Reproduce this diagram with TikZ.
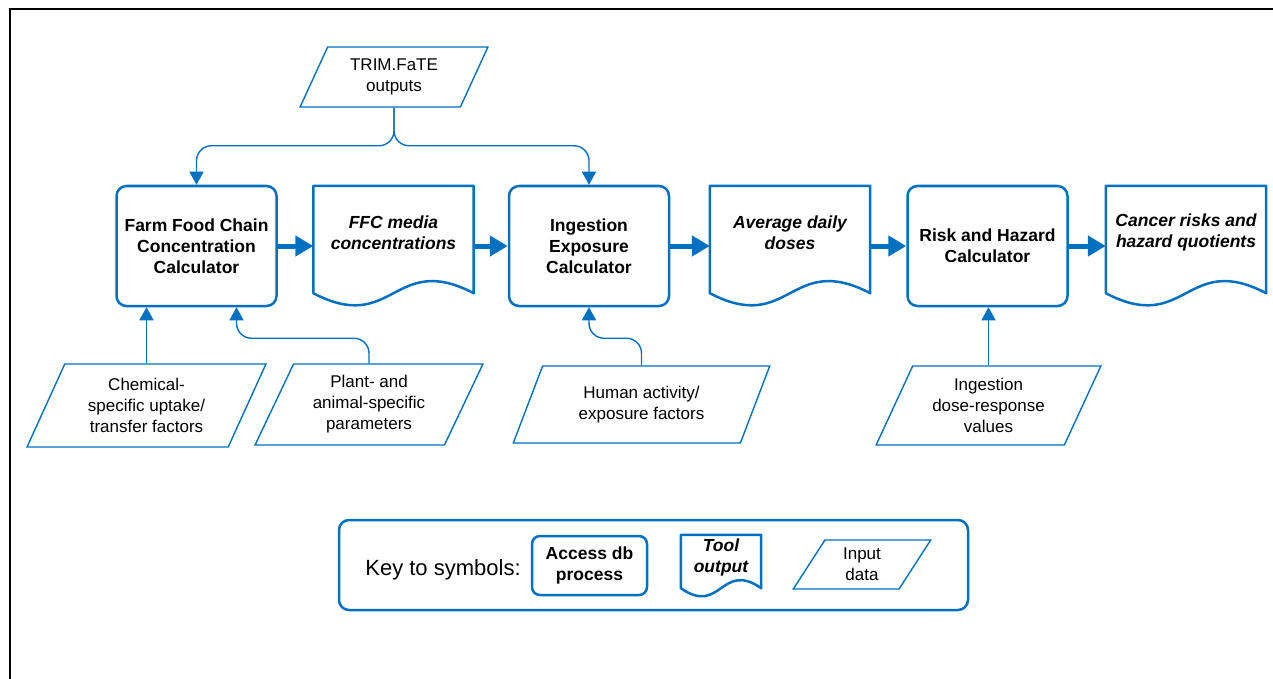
\documentclass[tikz,border=0pt]{standalone}
\usepackage{fontspec}
\setmainfont{Liberation Sans}
\usetikzlibrary{arrows.meta, calc, shapes.geometric}
\definecolor{flowblue}{RGB}{0,112,192}

\begin{document}
\begin{tikzpicture}[x=1pt, y=-1pt,
    every node/.style={font=\fontsize{17}{21}\selectfont, align=center, text=black},
    calcbox/.style={draw=flowblue, line width=2.5pt, rounded corners=10pt,
      minimum width=160pt, minimum height=120pt, inner sep=2pt,
      font=\fontsize{17.5}{21}\selectfont\bfseries},
    outdoc/.style={minimum width=160pt, minimum height=93pt, inner sep=2pt,
      font=\fontsize{17.5}{21}\selectfont\bfseries\itshape},
    docline/.style={draw=flowblue, line width=2.5pt, line join=round},
    indata/.style={trapezium, trapezium left angle=64, trapezium right angle=116,
      trapezium stretches=true, draw=flowblue, line width=1.4pt, inner sep=1pt},
    flow/.style={-{Triangle[length=18pt,width=20pt]}, draw=flowblue, line width=5pt},
    feed/.style={-{Triangle[length=13pt,width=14pt]}, draw=flowblue, line width=1.4pt,
      rounded corners=15pt},
    pageframe/.style={line width=2pt}
  ]
  \useasboundingbox (0,0) rectangle (1273,679);
  \draw[pageframe] (10,679) |- (1273,9);

  % tools and their outputs
  \node[calcbox] (ffc) at (196.5,246) {Farm Food Chain\\Concentration\\Calculator};
  \node[outdoc] (ffcout) at (393.5,232.5) {FFC media\\concentrations};
  \node[calcbox] (ing) at (589,246) {Ingestion\\Exposure\\Calculator};
  \node[outdoc] (adose) at (790,232.5) {Average daily\\doses};
  \node[calcbox] (risk) at (987.5,246) {Risk and Hazard\\Calculator};
  \node[outdoc] (cancer) at (1186,232.5) {Cancer risks and\\hazard quotients};

  % input data
  \node[indata, minimum width=188pt, minimum height=60pt] (trim) at (394,77) {TRIM.FaTE\\outputs};
  \node[indata, minimum width=239pt, minimum height=83pt] (chem) at (146.5,405.5) {Chemical-\\specific uptake/\\transfer factors};
  \node[indata, minimum width=228pt, minimum height=81pt] (plant) at (369,404.5) {Plant- and\\animal-specific\\parameters};
  \node[indata, minimum width=257pt, minimum height=77pt] (human) at (641.5,404.5) {Human activity/\\exposure factors};
  \node[indata, minimum width=225pt, minimum height=79pt] (dose) at (988.5,405.5) {Ingestion\\dose-response\\values};

  % key
  \node[draw=flowblue, line width=2.5pt, rounded corners=10pt,
    minimum width=629pt, minimum height=90pt] (keybox) at (653.5,565) {};
  \node[font=\fontsize{22}{26}\selectfont] (keylabel) at (443,570) {Key to symbols:};
  \node[calcbox, minimum width=115pt, minimum height=59pt, rounded corners=8pt] (keyproc) at (589.5,565.5) {Access db\\process};
  \node[outdoc, minimum width=80pt, minimum height=45pt] (keydoc) at (721,557.5) {Tool\\output};
  \node[indata, minimum width=138pt, minimum height=49pt] (keyin) at (862,564.5) {Input\\data};

  % document outlines with wavy bottom
  \foreach \d/\h/\a in {ffcout/14/42, adose/14/42, cancer/14/42, keydoc/8/28}
    \draw[docline] ($(\d.south west)+(0,\h)$) -- (\d.north west) -- (\d.north east)
      -- ($(\d.south east)+(0,\h)$)
      .. controls ($(\d.south)+(0,\h-\a)$) and ($(\d.south)+(0,\h+\a)$) .. ($(\d.south west)+(0,\h)$) -- cycle;

  % main flow
  \draw[flow] (ffc.east) -- (ffc.east -| ffcout.west);
  \draw[flow] (ffcout.east |- ing.west) -- (ing.west);
  \draw[flow] (ing.east) -- (ing.east -| adose.west);
  \draw[flow] (adose.east |- risk.west) -- (risk.west);
  \draw[flow] (risk.east) -- (risk.east -| cancer.west);

  % inputs into the tools
  \draw[feed] (trim.south) |- ($(ffc.north)+(0,-39)$) -- (ffc.north);
  \draw[feed] (trim.south) |- ($(ing.north)+(0,-39)$) -- (ing.north);
  \draw[feed] (chem.north) -- (chem.north |- ffc.south);
  \draw[feed] (plant.north) |- ($(ffc.south)+(40,31)$) -- ($(ffc.south)+(40,0)$);
  \draw[feed] (human.north) |- ($(ing.south)+(0,31)$) -- (ing.south);
  \draw[feed] (dose.north) -- (dose.north |- risk.south);
\end{tikzpicture}
\end{document}
